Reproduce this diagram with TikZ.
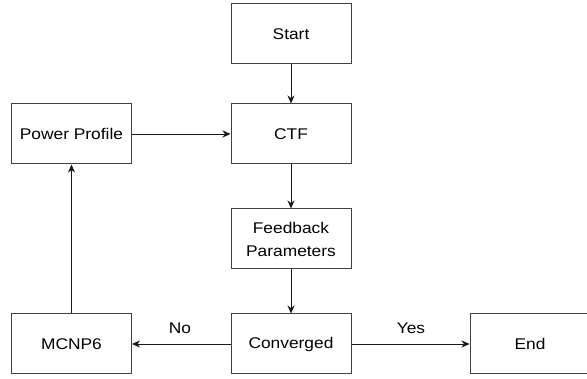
\documentclass[tikz,border=0pt]{standalone}
\usepackage{fontspec}
\setmainfont{Liberation Sans}[FakeStretch=1.12]
\usetikzlibrary{arrows.meta}
\begin{document}
\begin{tikzpicture}[x=1pt,y=-1pt,
  box/.style={draw=black!75,line width=1pt,minimum width=120pt,minimum height=60pt,inner sep=0pt,align=center,font=\fontsize{15.5}{23}\selectfont},
  conn/.style={draw=black!90,line width=0.8pt,-{Stealth[length=8pt,width=7pt,inset=2.5pt]}},
  lbl/.style={font=\fontsize{15.5}{23}\selectfont}]
\useasboundingbox (0,0) rectangle (587,379);
\node[box] (start) at (291,34) {Start};
\node[box] (ctf) at (291,134) {CTF};
\node[box] (pp) at (71.5,134) {Power Profile};
\node[box] (fb) at (291,239) {Feedback\\Parameters};
\node[box] (conv) at (291,344) {Converged};
\node[box] (mcnp) at (71.5,344) {MCNP6};
\node[box] (end) at (530,344) {End};
\draw[conn] (start) -- (ctf);
\draw[conn] (ctf) -- (fb);
\draw[conn] (fb) -- (conv);
\draw[conn] (pp) -- (ctf);
\draw[conn] (mcnp) -- (pp);
\draw[conn] (conv) -- (mcnp);
\draw[conn] (conv) -- (end);
\node[lbl] (no) at (180,328) {No};
\node[lbl] (yes) at (411,328) {Yes};
\end{tikzpicture}
\end{document}
